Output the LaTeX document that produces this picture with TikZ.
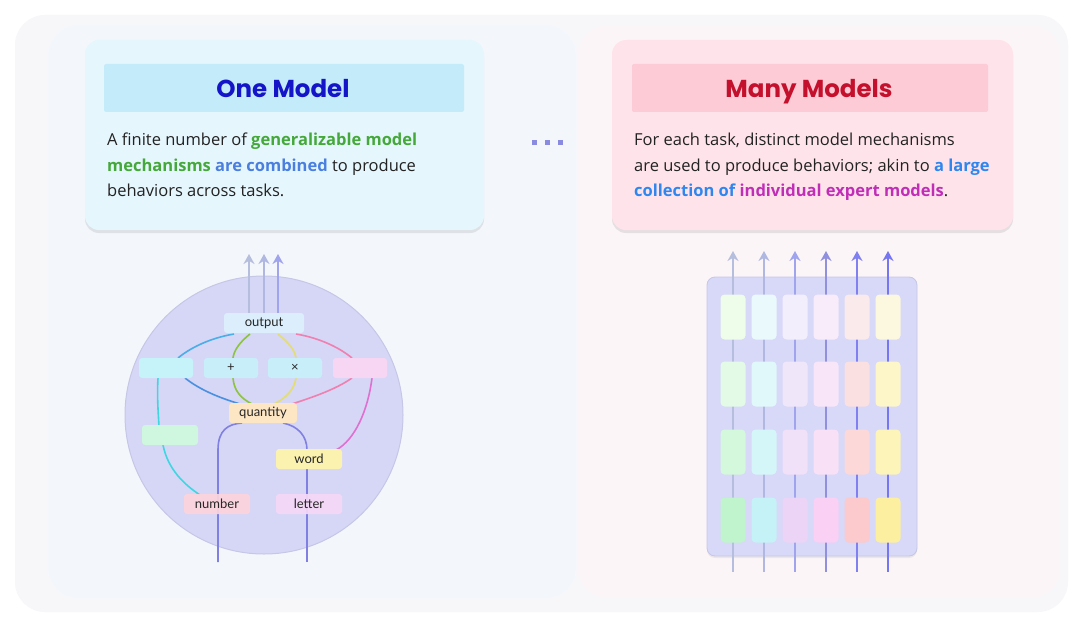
\documentclass[tikz,border=0pt]{standalone}
\usepackage{fontspec}
\setmainfont{Open Sans}
\newfontfamily\labfont{Lato}
\newfontfamily\titlefont{Poppins}
\usetikzlibrary{shadows,arrows.meta}
\definecolor{bgall}{HTML}{F7F7FA}
\definecolor{bgleft}{HTML}{F3F7FC}
\definecolor{bgright}{HTML}{FCF5F8}
\definecolor{lcardc}{HTML}{E6F6FD}
\definecolor{rcardc}{HTML}{FEE4EA}
\definecolor{lband}{HTML}{C4EBFA}
\definecolor{rband}{HTML}{FCCBD5}
\definecolor{ltitle}{HTML}{1414C8}
\definecolor{rtitle}{HTML}{C4102C}
\definecolor{bodyc}{HTML}{222222}
\definecolor{cgreen}{HTML}{45A83A}
\definecolor{cblue}{HTML}{4A7FE0}
\definecolor{cblue2}{HTML}{2F86EE}
\definecolor{cmag}{HTML}{C02EB8}
\definecolor{dotc}{HTML}{8A8AE0}
\definecolor{circc}{HTML}{D6D6F6}
\definecolor{circb}{HTML}{C6C6E6}
\definecolor{rectc}{HTML}{D8D8F8}
\definecolor{ea}{HTML}{4AAEE8}
\definecolor{eb}{HTML}{8CC43C}
\definecolor{ec}{HTML}{E4DE6E}
\definecolor{ed}{HTML}{F080B0}
\definecolor{ee}{HTML}{4A90E0}
\definecolor{ef}{HTML}{40D6E0}
\definecolor{eg}{HTML}{E070D0}
\definecolor{ep}{HTML}{8080E2}
\definecolor{a1}{HTML}{B6BEDE}
\definecolor{a2}{HTML}{B0B8E2}
\definecolor{a3}{HTML}{A0A4EC}
\definecolor{a4}{HTML}{9090DE}
\definecolor{a5}{HTML}{8080F0}
\definecolor{a6}{HTML}{7676F0}
\definecolor{nout}{HTML}{DCEEFB}
\definecolor{nb1}{HTML}{C6F2FA}
\definecolor{nop}{HTML}{C8EEFA}
\definecolor{nb4}{HTML}{F6D6F2}
\definecolor{nq}{HTML}{FCE6C4}
\definecolor{ng}{HTML}{CFF6DE}
\definecolor{nw}{HTML}{FCF2B0}
\definecolor{nn}{HTML}{FCD4DC}
\definecolor{nl}{HTML}{F6D8F6}
% right boxes colours: column / row
\definecolor{k11}{HTML}{EEFCEA}\definecolor{k12}{HTML}{E2FAE6}\definecolor{k13}{HTML}{D4F8DC}\definecolor{k14}{HTML}{C0F4CC}
\definecolor{k21}{HTML}{EAFAFC}\definecolor{k22}{HTML}{E0F8FA}\definecolor{k23}{HTML}{D4F6F8}\definecolor{k24}{HTML}{C4F2F6}
\definecolor{k31}{HTML}{F2EEFC}\definecolor{k32}{HTML}{F0E6FA}\definecolor{k33}{HTML}{F0E0F8}\definecolor{k34}{HTML}{ECD4F6}
\definecolor{k41}{HTML}{F8ECFA}\definecolor{k42}{HTML}{F8E6F8}\definecolor{k43}{HTML}{F8E0F6}\definecolor{k44}{HTML}{FAD0F4}
\definecolor{k51}{HTML}{FAEAEC}\definecolor{k52}{HTML}{FAE0E0}\definecolor{k53}{HTML}{FCD8D8}\definecolor{k54}{HTML}{FCCACC}
\definecolor{k61}{HTML}{FCF8E0}\definecolor{k62}{HTML}{FCF6C8}\definecolor{k63}{HTML}{FCF4B8}\definecolor{k64}{HTML}{FCF0A0}
\begin{document}
\begin{tikzpicture}[x=1pt,y=-1pt,
  card/.style={rounded corners=14pt, draw=none, inner sep=0pt,
    drop shadow={shadow xshift=0pt, shadow yshift=-3pt, opacity=0.18, fill=black!50}},
  band/.style={draw=none, inner sep=0pt, minimum width=360pt, minimum height=48pt, rounded corners=2pt},
  ttl/.style={font=\titlefont\bfseries\fontsize{24.5}{28}\selectfont, inner sep=0pt, anchor=base},
  body/.style={anchor=base west, inner sep=0pt, text=bodyc, font=\fontsize{16.5}{20}\selectfont},
  dnode/.style={rounded corners=3pt, minimum height=20pt, inner sep=0pt, text=black!85,
    font=\labfont\fontsize{13}{15}\selectfont},
  edge/.style={line width=1.6pt},
  upar/.style={line width=2.8pt, -{Stealth[length=10pt,width=11pt]}},
  kbox/.style={rounded corners=4pt, minimum width=25pt, minimum height=45pt, inner sep=0pt}]
\useasboundingbox (0,0) rectangle (1080,626);
\fill[white] (0,0) rectangle (1080,626);
% backgrounds
\fill[bgall, rounded corners=30pt] (15,15) rectangle (1068,612);
\fill[bgleft, rounded corners=30pt] (48,25) rectangle (576,598);
\fill[bgright, rounded corners=30pt] (578,25) rectangle (1060,598);
% cards
\node[card, fill=lcardc, minimum width=399pt, minimum height=190pt] (lcard) at (284.5,135) {};
\node[card, fill=rcardc, minimum width=401pt, minimum height=190pt] (rcard) at (812.5,135) {};
\node[band, fill=lband] (lband) at (284,88) {};
\node[band, fill=rband, minimum width=356pt] (rband) at (810,88) {};
\node[ttl, text=ltitle] (ltitle) at (283,97.5) {One Model};
\node[ttl, text=rtitle] (rtitle) at (809,97.5) {Many Models};
% body text
\node[body] (lt1) at (107,146) {A finite number of \textcolor{cgreen}{\bfseries generalizable model}};
\node[body] (lt2) at (107,171) {\textcolor{cgreen}{\bfseries mechanisms} \textcolor{cblue}{\bfseries are combined} to produce};
\node[body] (lt3) at (107,196) {behaviors across tasks.};
\node[body] (rt1) at (634,146) {For each task, distinct model mechanisms};
\node[body] (rt2) at (634,171) {are used to produce behaviors; akin to \textcolor{cblue2}{\bfseries a large}};
\node[body] (rt3) at (634,196) {\textcolor{cblue2}{\bfseries collection of} \textcolor{cmag}{\bfseries individual expert models}.};
% dots
\foreach \x [count=\i] in {534,547,560}
  \node[fill=dotc, minimum size=5pt, inner sep=0pt] (dot\i) at (\x,142) {};
% ---------- left diagram ----------
\node[circle, fill=circc, draw=circb, line width=1pt, minimum size=278pt, inner sep=0pt] (circ) at (264,415) {};
\coordinate (o1) at (249,313); \coordinate (o2) at (264,313); \coordinate (o3) at (278,313);
\coordinate (t1) at (249,254); \coordinate (t2) at (264,254); \coordinate (t3) at (278,254);
\draw[upar, a1] (o1) -- (t1);
\draw[upar, a2] (o2) -- (t2);
\draw[upar, a3] (o3) -- (t3);
\coordinate (in1) at (218,562); \coordinate (in2) at (307,562);
% edges
\draw[edge, ea] (234,334) .. controls (210,338) and (190,348) .. (178,358);
\draw[edge, eb] (250,334) .. controls (240,342) and (234,350) .. (233,358);
\draw[edge, ec] (278,334) .. controls (288,342) and (295,350) .. (296,358);
\draw[edge, ed] (296,334) .. controls (320,338) and (340,348) .. (352,358);
\draw[edge, ee] (185,378) .. controls (200,390) and (220,398) .. (240,404);
\draw[edge, eb] (233,378) .. controls (234,390) and (240,398) .. (252,404);
\draw[edge, ec] (296,378) .. controls (294,390) and (286,398) .. (274,404);
\draw[edge, ed] (352,378) .. controls (335,390) and (310,398) .. (292,404);
\draw[edge, ef] (158,378) .. controls (157,395) and (158,410) .. (159,426);
\draw[edge, ef] (163,445) .. controls (168,470) and (185,485) .. (200,495);
\draw[edge, eg] (372,378) .. controls (368,410) and (355,440) .. (336,450);
\draw[edge, ep] (in1) -- (218,450) .. controls (218,430) and (228,424) .. (242,423);
\draw[edge, ep] (283,423) .. controls (298,426) and (307,436) .. (307,450);
\draw[edge, ep] (in2) -- (307,469);
% nodes
\node[dnode, fill=nout, minimum width=80pt] (output) at (264,323) {output};
\node[dnode, fill=nb1, minimum width=54pt] (b1) at (166,368) {};
\node[dnode, fill=nop, minimum width=54pt] (bplus) at (231,368) {+};
\node[dnode, fill=nop, minimum width=54pt] (btimes) at (295,368) {×};
\node[dnode, fill=nb4, minimum width=54pt] (b4) at (360,368) {};
\node[dnode, fill=nq, minimum width=68pt] (quantity) at (263,413) {quantity};
\node[dnode, fill=ng, minimum width=56pt] (g) at (170,435) {};
\node[dnode, fill=nw, minimum width=66pt] (word) at (309,459) {word};
\node[dnode, fill=nn, minimum width=66pt, fill opacity=0.92, text opacity=1] (number) at (217,504) {number};
\node[dnode, fill=nl, minimum width=66pt, fill opacity=0.92, text opacity=1] (letter) at (309,504) {letter};
% ---------- right diagram ----------
\node[fill=rectc, draw=circb, line width=0.8pt, rounded corners=8pt, minimum width=210pt, minimum height=279pt, inner sep=0pt,
  drop shadow={shadow xshift=0pt, shadow yshift=-2pt, opacity=0.12, fill=black!50}] (rrect) at (812,416.5) {};
\foreach \x [count=\i] in {733,764,795,826,857,888}{
  \coordinate (cb\i) at (\x,572);
  \coordinate (ct\i) at (\x,251);
  \draw[upar, a\i] (cb\i) -- (ct\i);
  \foreach \y [count=\j] in {317,384,452,520}
    \node[kbox, fill=k\i\j] (c\i r\j) at (\x,\y) {};
}
\end{tikzpicture}
\end{document}
